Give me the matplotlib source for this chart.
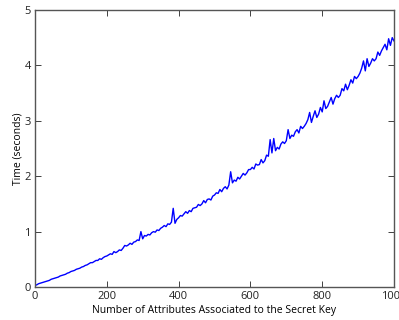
import numpy as np
import matplotlib
matplotlib.use('Agg')
import matplotlib.pyplot as plt

# number of attributes (step 5) and the measured time in seconds
attrs = np.arange(0, 1001, 5)
times = [
    0.03, 0.04, 0.06, 0.07, 0.08, 0.09, 0.10, 0.11, 0.12, 0.14,
    0.15, 0.16, 0.17, 0.18, 0.20, 0.21, 0.22, 0.23, 0.25, 0.26,
    0.28, 0.29, 0.30, 0.32, 0.33, 0.34, 0.36, 0.37, 0.39, 0.40,
    0.42, 0.44, 0.44, 0.46, 0.48, 0.48, 0.51, 0.50, 0.53, 0.55,
    0.56, 0.58, 0.60, 0.59, 0.64, 0.62, 0.64, 0.67, 0.66, 0.70,
    0.75, 0.74, 0.76, 0.79, 0.77, 0.81, 0.82, 0.85, 0.84, 1.00,
    0.87, 0.93, 0.92, 0.95, 0.94, 0.98, 1.00, 0.99, 1.03, 1.02,
    1.06, 1.08, 1.11, 1.09, 1.14, 1.13, 1.17, 1.42, 1.15, 1.22,
    1.25, 1.29, 1.28, 1.32, 1.36, 1.33, 1.38, 1.36, 1.42, 1.43,
    1.44, 1.49, 1.47, 1.50, 1.56, 1.52, 1.58, 1.59, 1.57, 1.64,
    1.66, 1.70, 1.69, 1.76, 1.72, 1.78, 1.81, 1.77, 1.84, 2.08,
    1.88, 1.93, 1.91, 1.98, 1.95, 2.00, 2.05, 2.02, 2.06, 2.12,
    2.12, 2.16, 2.13, 2.22, 2.20, 2.21, 2.30, 2.24, 2.28, 2.38,
    2.36, 2.66, 2.42, 2.68, 2.46, 2.52, 2.49, 2.58, 2.62, 2.59,
    2.64, 2.84, 2.68, 2.74, 2.72, 2.80, 2.84, 2.78, 2.90, 2.86,
    2.90, 2.95, 3.02, 3.15, 2.97, 3.08, 3.18, 3.06, 3.12, 3.24,
    3.16, 3.36, 3.22, 3.26, 3.34, 3.42, 3.30, 3.40, 3.46, 3.42,
    3.46, 3.58, 3.54, 3.66, 3.56, 3.64, 3.74, 3.68, 3.80, 3.76,
    3.80, 3.86, 3.95, 4.08, 3.90, 4.12, 3.98, 4.04, 4.12, 4.08,
    4.12, 4.24, 4.18, 4.26, 4.32, 4.38, 4.28, 4.48, 4.36, 4.50,
    4.44,
]
xticks = [0, 200, 400, 600, 800, 1000]
yticks = [0, 1, 2, 3, 4, 5]

plt.rcParams['font.family'] = ['Open Sans', 'DejaVu Sans']

fig = plt.figure(figsize=(3.99, 3.2), dpi=100)
ax = fig.add_axes([0.0877, 0.103, 0.8998, 0.866])
ax.plot(attrs, times, color='blue', linewidth=1)
ax.set_xlim(0, 1000)
ax.set_ylim(0, 5)
ax.set_xticks(xticks)
ax.set_yticks(yticks)
ax.tick_params(direction='in', length=4, width=0.6, top=True, right=True,
               labelsize=8, colors='#222222', pad=3)
for s in ax.spines.values():
    s.set_color('#555555')
    s.set_linewidth(1.0)
ax.set_xlabel('Number of Attributes Associated to the Secret Key', fontsize=7.5, labelpad=2)
ax.set_ylabel('Time (seconds)', fontsize=7.5, labelpad=1)
fig.savefig('out.png', dpi=100)
